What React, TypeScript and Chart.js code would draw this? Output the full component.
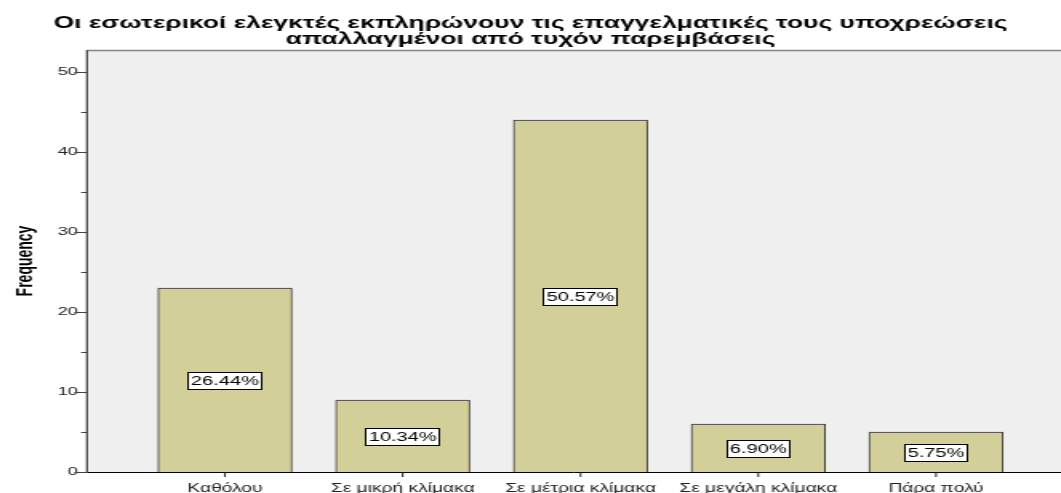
import React, { useEffect, useRef } from 'react';
import { Chart, registerables } from 'chart.js';

Chart.register(...registerables);

const titleLines = [
  'Οι εσωτερικοί ελεγκτές εκπληρώνουν τις επαγγελματικές τους υποχρεώσεις',
  'απαλλαγμένοι από τυχόν παρεμβάσεις',
];
const categories = ['Καθόλου', 'Σε μικρή κλίμακα', 'Σε μέτρια κλίμακα', 'Σε μεγάλη κλίμακα', 'Πάρα πολύ'];
const frequencies = [23, 9, 44, 6, 5];
const percentLabels = ['26.44%', '10.34%', '50.57%', '6.90%', '5.75%'];
const yMajorTicks = [0, 10, 20, 30, 40, 50];
const yMinorTicks = [5, 15, 25, 35, 45];
const yTitle = 'Frequency';

const SCREEN_W = 1061;
const H = 493;
const W = 663;
const SX = SCREEN_W / W;
const FONT = '"Liberation Sans", Arial, sans-serif';

const decorPlugin = {
  id: 'decor',
  beforeDatasetsDraw(chart: any) {
    const { ctx, chartArea: a } = chart;
    ctx.save();
    ctx.fillStyle = '#EFEFEF';
    ctx.fillRect(a.left, a.top, a.right - a.left, a.bottom - a.top);
    ctx.restore();
  },
  afterDatasetsDraw(chart: any) {
    const { ctx, chartArea: a, scales } = chart;
    const ys = scales.y;
    const xs = scales.x;
    const line = (x1: number, y1: number, x2: number, y2: number) => {
      ctx.beginPath();
      ctx.moveTo(x1, y1);
      ctx.lineTo(x2, y2);
      ctx.stroke();
    };
    ctx.save();
    // top border
    ctx.strokeStyle = '#858585';
    ctx.lineWidth = 1.5;
    line(a.left, a.top + 0.5, a.right, a.top + 0.5);
    // left axis
    ctx.strokeStyle = '#444';
    ctx.lineWidth = 1.25;
    line(a.left, a.top, a.left, a.bottom + 0.5);
    // bottom axis
    ctx.strokeStyle = '#000';
    ctx.lineWidth = 1;
    line(a.left, Math.round(a.bottom) + 0.5, a.right, Math.round(a.bottom) + 0.5);
    // y tick marks
    ctx.strokeStyle = '#444';
    yMajorTicks.forEach((v) => {
      const py = Math.round(ys.getPixelForValue(v)) + 0.5;
      line(a.left - 8, py, a.left, py);
    });
    yMinorTicks.forEach((v) => {
      const py = Math.round(ys.getPixelForValue(v)) + 0.5;
      line(a.left - 3.75, py, a.left, py);
    });
    // x tick marks
    ctx.strokeStyle = '#222';
    categories.forEach((_, i) => {
      const px = xs.getPixelForValue(i);
      line(px, a.bottom, px, a.bottom + 5);
    });
    // percentage labels
    const meta = chart.getDatasetMeta(0);
    ctx.font = `12.5px ${FONT}`;
    meta.data.forEach((bar: any, i: number) => {
      const { x: bx, y: by, base } = bar.getProps(['x', 'y', 'base'], true);
      const cy = Math.round((by + base) / 2 + 1);
      const txt = percentLabels[i];
      const tw = ctx.measureText(txt).width;
      const bw = Math.round(tw + 5);
      const bh = 18;
      const lx = Math.round(bx - bw / 2);
      const ty = cy - bh / 2;
      ctx.fillStyle = '#fff';
      ctx.fillRect(lx, ty, bw, bh);
      ctx.strokeStyle = '#000';
      ctx.lineWidth = 1;
      ctx.strokeRect(lx + 0.5, ty + 0.5, bw - 1, bh - 1);
      ctx.fillStyle = '#000';
      ctx.textAlign = 'center';
      ctx.textBaseline = 'middle';
      ctx.fillText(txt, bx, cy + 0.5);
    });
    ctx.restore();
  },
};

export default function App() {
  const canvasRef = useRef<HTMLCanvasElement | null>(null);

  useEffect(() => {
    const canvas = canvasRef.current;
    if (!canvas) return;
    const chart = new Chart(canvas, {
      type: 'bar',
      data: {
        datasets: [
          {
            data: frequencies.map((v, i) => ({ x: i, y: v })),
            backgroundColor: '#D3CF98',
            borderColor: '#3a3a3a',
            borderWidth: 1,
            barThickness: 83.75,
          },
        ],
      },
      options: {
        animation: false,
        responsive: false,
        devicePixelRatio: 1,
        layout: { padding: 0 },
        plugins: {
          legend: { display: false },
          tooltip: { enabled: false },
          title: {
            display: true,
            text: titleLines,
            color: '#000',
            font: { family: FONT, size: 16.5, weight: 'bold', lineHeight: 16 / 16.5 },
            padding: { top: 15.7, bottom: 2.3 },
          },
        },
        scales: {
          x: {
            type: 'linear',
            offset: false,
            min: -0.776,
            max: 4.703,
            grid: { display: false, drawTicks: false, offset: false },
            border: { display: false },
            afterBuildTicks: (scale: any) => {
              scale.ticks = categories.map((_, i) => ({ value: i }));
            },
            afterFit: (scale: any) => {
              scale.height = 21;
            },
            ticks: {
              autoSkip: false,
              maxRotation: 0,
              minRotation: 0,
              padding: 9,
              color: '#222',
              font: { family: FONT, size: 12 },
              callback: (v: any) => categories[v as number] ?? '',
            },
          },
          y: {
            min: 0,
            max: 52.75,
            grid: { display: false, drawTicks: false },
            border: { display: false },
            afterFit: (scale: any) => {
              scale.width = 54.37;
            },
            ticks: {
              stepSize: 10,
              padding: 5.6,
              color: '#222',
              font: { family: FONT, size: 11.5 },
              callback: (v: any) => (yMajorTicks.includes(v as number) ? String(v) : ''),
            },
            title: {
              display: true,
              text: yTitle,
              color: '#000',
              font: { family: FONT, size: 14, weight: 'bold' },
              padding: { top: 7.5, bottom: 0 },
            },
          },
        },
      },
      plugins: [decorPlugin],
    });
    return () => chart.destroy();
  }, []);

  return (
    <div
      style={{
        position: 'fixed',
        left: 0,
        top: 0,
        width: SCREEN_W,
        height: H,
        overflow: 'hidden',
        background: '#fff',
      }}
    >
      <div style={{ width: W, height: H, transform: `scaleX(${SX})`, transformOrigin: '0 0' }}>
        <canvas ref={canvasRef} width={W} height={H} style={{ display: 'block' }} />
      </div>
    </div>
  );
}
